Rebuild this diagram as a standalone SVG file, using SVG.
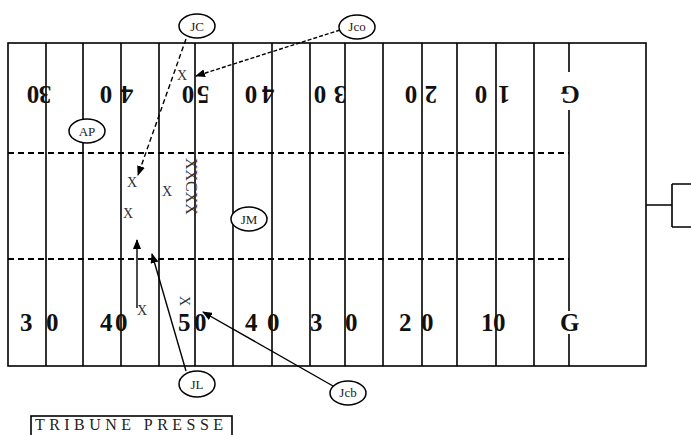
<svg xmlns="http://www.w3.org/2000/svg" width="691" height="435" viewBox="0 0 691 435">
<style>
.ln{stroke:#000;stroke-width:1.6;fill:none}
.dash{stroke:#000;stroke-width:2;stroke-dasharray:6 4;fill:none}
.num{font-family:"Liberation Serif",serif;font-weight:bold;font-size:25px;fill:#111}
.top text{text-anchor:middle}
.x{font-family:"Liberation Serif",serif;font-size:14px;fill:#333}
.ov{fill:#fff;stroke:#000;stroke-width:1.5}
.lab{font-family:"Liberation Serif",serif;font-size:13px;fill:#222;text-anchor:middle}
.con{stroke:#000;stroke-width:1.4;fill:none;marker-end:url(#ah)}
</style>
<defs>
<marker id="ah" viewBox="0 0 10 8" refX="9" refY="4" markerWidth="10" markerHeight="8" markerUnits="userSpaceOnUse" orient="auto">
<path d="M0,0 L10,4 L0,8 z" fill="#000"/>
</marker>
</defs>
<rect width="691" height="435" fill="#fff"/>
<g id="field">
<rect x="8" y="43" width="638" height="323" class="ln"/>
<path class="ln" d="M46 43V366M83 43V366M121 43V366M159 43V366M195 43V366M233 43V366M272 43V366M310 43V366M345 43V366M383 43V366M422 43V366M457 43V366M496 43V366M534 43V366M569 43V72M569 110V311M569 334V366"/>
<path class="dash" d="M8 153H569M8 259H569"/>
<path class="ln" d="M646 205H672M672 184V227M672 184H691M672 227H691"/>
</g>
<g id="numbers-top" class="num top">
<text x="33" y="102" transform="rotate(180 33 94)">0</text><text x="45" y="102" transform="rotate(180 45 94)">3</text>
<text x="106" y="102" transform="rotate(180 106 94)">0</text><text x="127" y="102" transform="rotate(180 127 94)">4</text>
<text x="188" y="102" transform="rotate(180 188 94)">0</text><text x="203" y="102" transform="rotate(180 203 94)">5</text>
<text x="251" y="102" transform="rotate(180 251 94)">0</text><text x="268" y="102" transform="rotate(180 268 94)">4</text>
<text x="320" y="102" transform="rotate(180 320 94)">0</text><text x="340" y="102" transform="rotate(180 340 94)">3</text>
<text x="411" y="102" transform="rotate(180 411 94)">0</text><text x="431" y="102" transform="rotate(180 431 94)">2</text>
<text x="481" y="102" transform="rotate(180 481 94)">0</text><text x="504" y="102" transform="rotate(180 504 94)">1</text>
<text x="570" y="102" transform="rotate(180 570 94)">G</text>
</g>
<g id="numbers-bottom" class="num">
<text x="20 46" y="331">30</text>
<text x="100 115" y="331">40</text>
<text x="178 194" y="331">50</text>
<text x="245 267" y="331">40</text>
<text x="310 345" y="331">30</text>
<text x="399 421" y="331">20</text>
<text x="481 493" y="331">10</text>
<text x="560" y="331">G</text>
</g>
<g id="players" class="x">
<text x="177" y="80">X</text>
<text x="127" y="187">X</text>
<text x="162" y="196">X</text>
<text x="123" y="218">X</text>
<text transform="rotate(90 186 158)" x="186" y="158" font-size="16">XXCXX</text>
<text transform="rotate(90 180 296)" x="180" y="296">X</text>
<text x="137" y="315">X</text>
</g>
<g id="connectors">
<line class="con" x1="186" y1="39" x2="138" y2="175" stroke-dasharray="5 3"/>
<line class="con" x1="340" y1="30" x2="196" y2="76" stroke-dasharray="4 2"/>
<line class="con" x1="137" y1="308" x2="137" y2="240"/>
<line class="con" x1="186" y1="371" x2="152" y2="254"/>
<line class="con" x1="333" y1="386" x2="203" y2="312"/>
</g>
<g id="JC"><ellipse class="ov" cx="197" cy="26" rx="18" ry="12"/><text class="lab" x="197" y="31">JC</text></g>
<g id="Jco"><ellipse class="ov" cx="357" cy="27" rx="18" ry="12"/><text class="lab" x="357" y="31" font-size="11">Jco</text></g>
<g id="AP"><ellipse class="ov" cx="87" cy="131" rx="18" ry="12"/><text class="lab" x="87" y="136">AP</text></g>
<g id="JM"><ellipse class="ov" cx="249" cy="219" rx="18" ry="12"/><text class="lab" x="249" y="224">JM</text></g>
<g id="JL"><ellipse class="ov" cx="197" cy="384" rx="18" ry="13"/><text class="lab" x="197" y="389">JL</text></g>
<g id="Jcb"><ellipse class="ov" cx="348" cy="393" rx="18" ry="12"/><text class="lab" x="348" y="397" font-size="11">Jcb</text></g>
<g id="tribune">
<rect x="31" y="416" width="201" height="22" class="ln" stroke-width="1.4"/>
<text x="35" y="430" font-family="Liberation Serif, serif" font-size="16" fill="#222" textLength="188" lengthAdjust="spacing">TRIBUNE PRESSE</text>
</g>
</svg>
